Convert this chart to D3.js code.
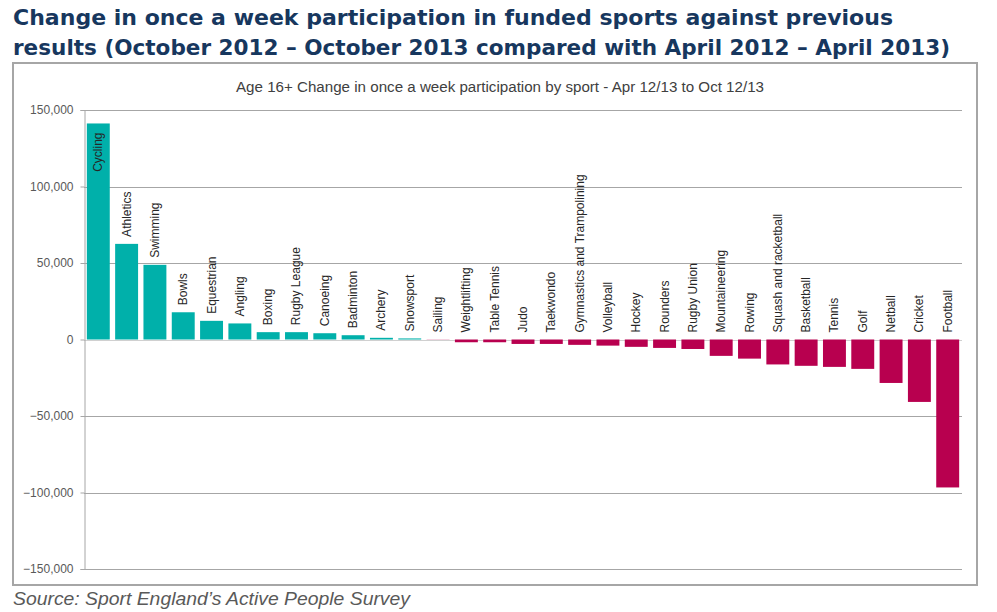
<!DOCTYPE html>
<html><head><meta charset="utf-8">
<script src="https://cdn.jsdelivr.net/npm/d3@7"></script>
<style>body{margin:0;background:#fff}svg{display:block}</style>
</head><body>
<svg id="c" width="997" height="612"></svg>
<script>
const sports = ["Cycling","Athletics","Swimming","Bowls","Equestrian","Angling","Boxing","Rugby League","Canoeing","Badminton","Archery","Snowsport","Sailing","Weightlifting","Table Tennis","Judo","Taekwondo","Gymnastics and Trampolining","Volleyball","Hockey","Rounders","Rugby Union","Mountaineering","Rowing","Squash and racketball","Basketball","Tennis","Golf","Netball","Cricket","Football"];
const changes = [141200,62500,48800,17800,12200,10500,4800,4800,4100,2800,1100,700,-300,-1800,-1800,-2900,-2900,-3500,-4000,-4800,-5500,-6200,-10700,-12500,-16300,-17200,-17900,-19200,-28400,-40800,-96700];
const yTicks = [-150000,-100000,-50000,0,50000,100000,150000];
const titleLines = ["Change in once a week participation in funded sports against previous","results (October 2012 \u2013 October 2013 compared with April 2012 \u2013 April 2013)"];
const subtitle = "Age 16+ Change in once a week participation by sport - Apr 12/13 to Oct 12/13";
const source = "Source: Sport England\u2019s Active People Survey";

const svg = d3.select("#c");
svg.selectAll("text.title").data(titleLines).join("text")
  .attr("class","title")
  .attr("x",13).attr("y",(d,i)=>25+i*30)
  .attr("textLength",(d,i)=>i===0?880:937).attr("lengthAdjust","spacingAndGlyphs")
  .style("font-family","'DejaVu Sans',sans-serif").style("font-weight","900").style("font-size","21px")
  .style("fill","#17375e").text(d=>d);
svg.append("rect").attr("x",13).attr("y",63).attr("width",964).attr("height",522)
  .attr("fill","none").attr("stroke","#a6a6a6").attr("stroke-width",2);
svg.append("text").attr("x",500).attr("y",92).attr("text-anchor","middle")
  .attr("textLength",528).attr("lengthAdjust","spacingAndGlyphs")
  .style("font-family","'Liberation Sans',Arial,sans-serif").style("font-size","14px").style("fill","#404040").text(subtitle);

const x0 = 84, x1 = 962;
const y = d3.scaleLinear().domain([-150000,150000]).range([569,110]);
const x = d3.scaleBand().domain(d3.range(sports.length)).range([x0,x1]).paddingInner(0.19).paddingOuter(0.1);

svg.append("g").selectAll("line").data(yTicks).join("line")
  .attr("x1",x0).attr("x2",x1).attr("y1",d=>Math.round(y(d))+0.5).attr("y2",d=>Math.round(y(d))+0.5)
  .attr("stroke",d=>d===0?"#d0d0d0":"#a6a6a6").attr("stroke-width",1);
const ax = svg.append("g").attr("transform",`translate(${x0+0.5},0)`)
  .call(d3.axisLeft(y).tickValues(yTicks).tickSize(4).tickPadding(7).tickFormat(d3.format(",")));
ax.select(".domain").attr("stroke","#a6a6a6");
ax.selectAll(".tick line").attr("stroke","#a6a6a6");
ax.selectAll(".tick text").style("font-family","'Liberation Sans',Arial,sans-serif").style("font-size","12px").style("fill","#595959");

svg.append("g").selectAll("rect").data(changes).join("rect")
  .attr("x",(d,i)=>x(i)).attr("width",x.bandwidth())
  .attr("y",d=>y(Math.max(d,0))).attr("height",d=>Math.abs(y(d)-y(0)))
  .attr("fill",d=>d>=0?"#00b0aa":(d>-1000?"#e6a0bd":"#b8004f"));

svg.append("g").selectAll("text").data(changes).join("text")
  .attr("transform",(d,i)=>{
    const cx = x(i)+x.bandwidth()/2+4;
    if (i===0) return `translate(${cx},${y(d)+9}) rotate(-90)`;
    return `translate(${cx},${y(Math.max(d,0))-7}) rotate(-90)`;
  })
  .attr("text-anchor",(d,i)=>i===0?"end":"start")
  .style("font-family","'Liberation Sans',Arial,sans-serif").style("font-size","12px").style("fill","#262626")
  .text((d,i)=>sports[i]);

svg.append("text").attr("x",13).attr("y",605)
  .attr("textLength",397).attr("lengthAdjust","spacingAndGlyphs")
  .style("font-family","'Liberation Sans',Arial,sans-serif").style("font-style","italic").style("font-size","18px").style("fill","#595959")
  .text(source);
</script>
</body></html>
